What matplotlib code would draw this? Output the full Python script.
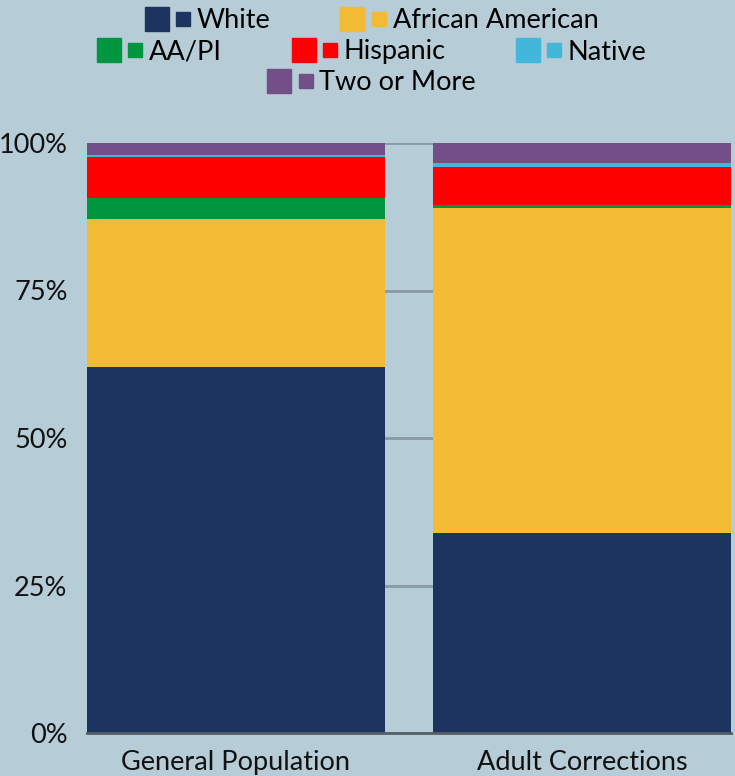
import numpy as np
import matplotlib
matplotlib.use('Agg')
import matplotlib.pyplot as plt
from matplotlib.lines import Line2D
from matplotlib.legend_handler import HandlerTuple

plt.rcParams['font.family'] = ['Lato', 'DejaVu Sans']

groups = ['General Population', 'Adult Corrections']
races = ['White', 'African American', 'AA/PI', 'Hispanic', 'Native', 'Two or More']
colors = ['#1d3461', '#f3bb33', '#00953f', '#ff0000', '#43b7d9', '#734f87']

white = [62.0, 33.9]
african_american = [25.1, 55.1]
aapi = [3.6, 0.5]
hispanic = [6.9, 6.4]
native = [0.4, 0.7]
two_or_more = [2.0, 3.4]
series = [white, african_american, aapi, hispanic, native, two_or_more]

yticks = [0, 25, 50, 75, 100]
ytick_labels = ['0%', '25%', '50%', '75%', '100%']

bg = '#b6ccd7'
fig = plt.figure(figsize=(7.35, 7.76), dpi=100, facecolor=bg)
ax = fig.add_axes([87 / 735, 1 - 733 / 776, 644 / 735, 590 / 776], facecolor=bg)

x = np.arange(len(groups))
bottom = np.zeros(len(groups))
for vals, c in zip(series, colors):
    ax.bar(x, vals, width=0.861, bottom=bottom, color=c, zorder=3)
    bottom += np.array(vals)

ax.set_xlim(-0.4305, 1.4305)
ax.set_ylim(0, 100)
ax.set_yticks(yticks)
ax.set_yticklabels(ytick_labels)
ax.set_xticks(x)
ax.set_xticklabels(groups)
ax.tick_params(axis='both', length=0, labelsize=19.5, colors='#111111')
ax.tick_params(axis='y', pad=14)
ax.tick_params(axis='x', pad=12)
ax.yaxis.grid(True, color='#8a9aa3', linewidth=2, zorder=0)
for s in ['left', 'right', 'top']:
    ax.spines[s].set_visible(False)
ax.spines['bottom'].set_color('#555f66')
ax.spines['bottom'].set_linewidth(2)
ax.spines['bottom'].set_zorder(4)

def handle(c):
    big = Line2D([], [], marker='s', linestyle='none', markersize=17,
                 markerfacecolor=c, markeredgecolor=c)
    small = Line2D([], [], marker='s', linestyle='none', markersize=10,
                   markerfacecolor=c, markeredgecolor=c)
    return (big, small)

rows = [[0, 1], [2, 3, 4], [5]]
row_y = [1 - 21 / 776, 1 - 52 / 776, 1 - 83 / 776]
for idx, yy in zip(rows, row_y):
    fig.legend([handle(colors[i]) for i in idx], [races[i] for i in idx],
               handler_map={tuple: HandlerTuple(ndivide=None, pad=0.15)},
               loc='center', bbox_to_anchor=(372 / 735, yy), ncol=len(idx),
               frameon=False, fontsize=19.5, handlelength=1.8, handletextpad=0.1,
               columnspacing=2.6, borderpad=0, borderaxespad=0)

fig.savefig('out.png', dpi=100, facecolor=bg)
